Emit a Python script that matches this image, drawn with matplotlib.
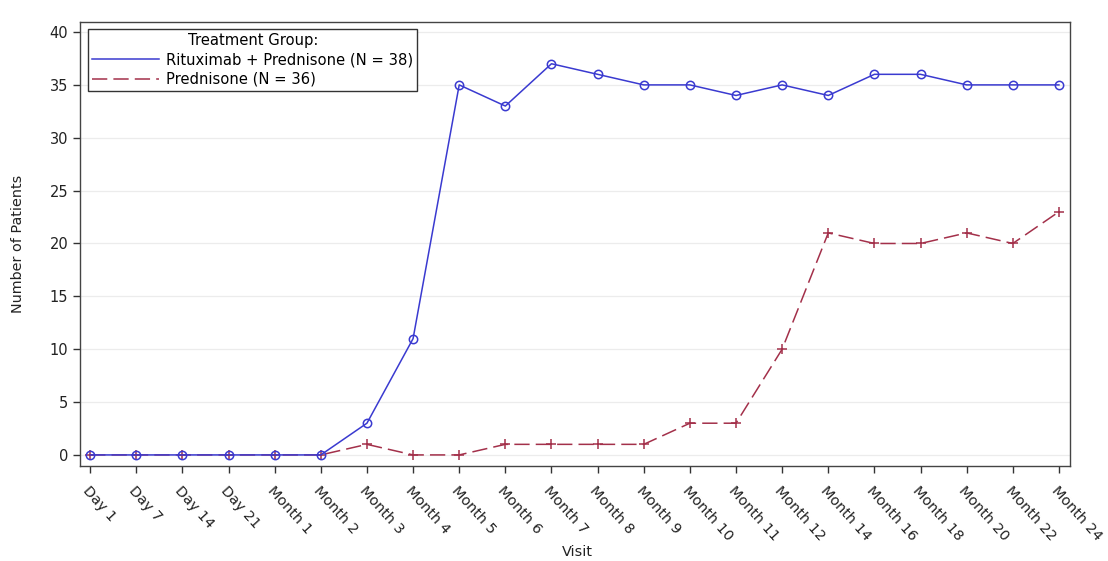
import matplotlib
matplotlib.use("Agg")
import matplotlib.pyplot as plt
from matplotlib.lines import Line2D

plt.rcParams['font.family'] = ['DejaVu Sans']

visits = ["Day 1", "Day 7", "Day 14", "Day 21", "Month 1", "Month 2", "Month 3",
          "Month 4", "Month 5", "Month 6", "Month 7", "Month 8", "Month 9",
          "Month 10", "Month 11", "Month 12", "Month 14", "Month 16", "Month 18",
          "Month 20", "Month 22", "Month 24"]
ritux_pred = [0, 0, 0, 0, 0, 0, 3, 11, 35, 33, 37, 36, 35, 35, 34, 35, 34, 36, 36, 35, 35, 35]
pred = [0, 0, 0, 0, 0, 0, 1, 0, 0, 1, 1, 1, 1, 3, 3, 10, 21, 20, 20, 21, 20, 23]
series_labels = ["Rituximab + Prednisone (N = 38)", "Prednisone (N = 36)"]

blue = "#3a3ad0"
red = "#a3304a"
dash = (0, (10, 4))

fig = plt.figure(figsize=(11.08, 5.61), dpi=100)
ax = fig.add_axes([0.0722, 0.1693, 0.8935, 0.7915])

x = list(range(len(visits)))
ax.plot(x, pred, color=red, linestyle=dash, linewidth=1.1,
        marker='+', markersize=7, markeredgewidth=1.1, zorder=3)
ax.plot(x, ritux_pred, color=blue, linestyle='-', linewidth=1.1,
        marker='o', markersize=6, markerfacecolor='none', markeredgewidth=1.1, zorder=4)

ax.set_xlim(-0.22, len(visits) - 1 + 0.24)
ax.set_ylim(-1.05, 40.95)
ax.set_yticks(range(0, 41, 5))
ax.set_xticks(x)
ax.set_xticklabels(visits, rotation=-48, ha='left', va='top', rotation_mode='anchor',
                   fontsize=10.4, color='#222222')
ax.tick_params(axis='y', labelsize=10.5, length=5, width=1, color='#333333', labelcolor='#222222')
ax.tick_params(axis='x', length=5, width=1, color='#333333', pad=8)
ax.yaxis.grid(True, color='#ececec', linewidth=0.9)
ax.set_axisbelow(True)
for s in ax.spines.values():
    s.set_color('#444444')
    s.set_linewidth(1.0)

ax.set_ylabel("Number of Patients", fontsize=10.4, color='#222222')
ax.yaxis.set_label_coords(-0.0556, 0.5)
ax.set_xlabel("Visit", fontsize=10.4, va='top', color='#222222')
ax.xaxis.set_label_coords(0.502, -0.178)

handles = [Line2D([0], [0], color=blue, linewidth=1.1),
           Line2D([0], [0], color=red, linewidth=1.1, linestyle=dash)]
leg = ax.legend(handles, series_labels, title="Treatment Group:", loc='upper left',
                bbox_to_anchor=(0.008, 0.985), fontsize=10.6, title_fontsize=10.6,
                frameon=True, fancybox=False, framealpha=1, edgecolor='#333333',
                borderpad=0.3, labelspacing=0.3, handlelength=4.5, handletextpad=0.5,
                borderaxespad=0)
leg.get_frame().set_linewidth(1.0)

fig.savefig("out.png", dpi=100)
